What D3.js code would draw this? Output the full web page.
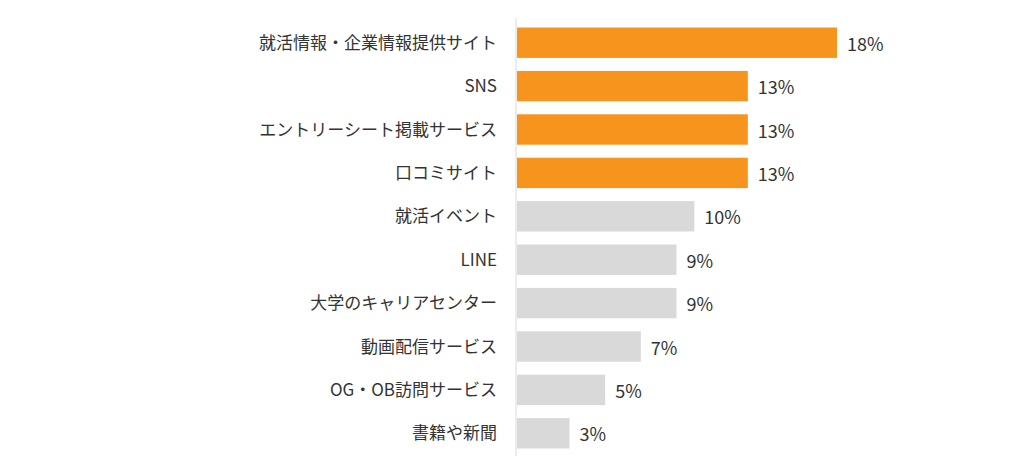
<!DOCTYPE html><html><head><meta charset="utf-8"><script src="https://d3js.org/d3.v7.min.js"></script>
<style>body{margin:0;background:#fff}text{font-family:"Noto Sans CJK JP","Noto Sans",sans-serif;fill:#333}</style></head><body>
<svg id="c" width="1024" height="464"></svg>
<script>
const categories=["就活情報・企業情報提供サイト","SNS","エントリーシート掲載サービス","口コミサイト","就活イベント","LINE","大学のキャリアセンター","動画配信サービス","OG・OB訪問サービス","書籍や新聞"];
const values=[18,13,13,13,10,9,9,7,5,3];
const highlighted=[true,true,true,true,false,false,false,false,false,false];
const svg=d3.select("#c");
const x=d3.scaleLinear().domain([0,18]).range([516,837]);
const y=d3.scaleBand().domain(categories).range([21,455]).paddingInner(0.3).paddingOuter(0.15);
svg.append("line").attr("x1",516).attr("x2",516).attr("y1",18).attr("y2",456).attr("stroke","#d9d9d9");
svg.selectAll("rect").data(values).enter().append("rect")
 .attr("x",x(0)+1).attr("y",(d,i)=>y(categories[i])).attr("height",y.bandwidth())
 .attr("width",d=>x(d)-x(0)-1).attr("fill",(d,i)=>highlighted[i]?"#F7941D":"#D9D9D9");
svg.selectAll(".v").data(values).enter().append("text")
 .attr("x",d=>x(d)+10).attr("y",(d,i)=>y(categories[i])+y.bandwidth()/2+8)
 .attr("font-size",18).text(d=>d+"%");
svg.selectAll(".c").data(categories).enter().append("text")
 .attr("x",497).attr("y",d=>y(d)+y.bandwidth()/2+6).attr("text-anchor","end")
 .attr("font-size",17).text(d=>d);
</script></body></html>
